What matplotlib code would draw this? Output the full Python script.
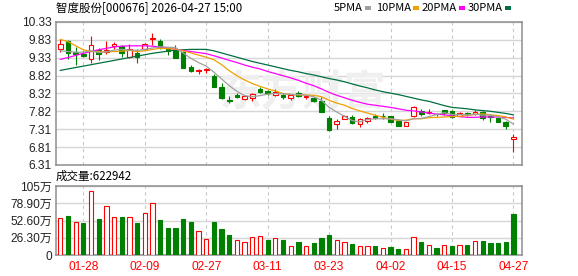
import matplotlib
matplotlib.use("Agg")
import matplotlib.pyplot as plt
from matplotlib.patches import Rectangle
import numpy as np

# trading days shown on the chart
dates = [
    "01-23", "01-26", "01-27", "01-28", "01-29", "01-30", "02-02", "02-03", "02-04", "02-05",
    "02-06", "02-09", "02-10", "02-11", "02-12", "02-13", "02-24", "02-25", "02-26", "02-27",
    "03-02", "03-03", "03-04", "03-05", "03-06", "03-09", "03-10", "03-11", "03-12", "03-13",
    "03-16", "03-17", "03-18", "03-19", "03-20", "03-23", "03-24", "03-25", "03-26", "03-27",
    "03-30", "03-31", "04-01", "04-02", "04-03", "04-07", "04-08", "04-09", "04-10", "04-13",
    "04-14", "04-15", "04-16", "04-17", "04-20", "04-21", "04-22", "04-23", "04-24", "04-27",
]
tick_dates = ["01-28", "02-09", "02-27", "03-11", "03-23", "04-02", "04-15", "04-27"]

opens = [9.58, 9.79, 9.50, 9.42, 9.30, 9.53, 9.48, 9.66, 9.65, 9.35,
         9.47, 9.58, 9.84, 9.80, 9.58, 9.55, 9.48, 9.07, 8.94, 8.97,
         8.81, 8.49, 8.13, 8.28, 8.17, 8.19, 8.46, 8.38, 8.28, 8.28,
         8.20, 8.32, 8.22, 8.19, 8.11, 7.62, 7.45, 7.60, 7.67, 7.47,
         7.55, 7.69, 7.70, 7.68, 7.56, 7.42, 7.70, 7.83, 7.76, 7.74,
         7.85, 7.82, 7.70, 7.76, 7.74, 7.79, 7.70, 7.62, 7.52, 7.05]
highs = [9.84, 9.82, 9.63, 9.52, 9.94, 9.60, 9.80, 9.77, 9.69, 9.71,
         9.56, 9.75, 10.02, 9.85, 9.64, 9.68, 9.52, 9.11, 9.02, 9.05,
         8.86, 8.61, 8.24, 8.32, 8.28, 8.34, 8.51, 8.41, 8.44, 8.33,
         8.30, 8.39, 8.28, 8.22, 8.22, 7.70, 7.60, 7.71, 7.71, 7.63,
         7.66, 7.75, 7.76, 7.70, 7.60, 7.53, 7.96, 7.89, 7.89, 7.76,
         7.87, 7.86, 7.81, 7.79, 7.85, 7.83, 7.74, 7.66, 7.54, 7.19]
lows = [9.50, 9.30, 9.13, 9.34, 9.19, 9.26, 9.42, 9.58, 9.34, 9.31,
        9.19, 9.54, 9.67, 9.58, 9.40, 9.32, 9.04, 8.92, 8.86, 8.91,
        8.49, 8.17, 8.06, 8.18, 8.14, 8.11, 8.33, 8.29, 8.25, 8.17,
        8.13, 8.21, 8.17, 8.09, 7.80, 7.27, 7.32, 7.59, 7.45, 7.38,
        7.48, 7.60, 7.60, 7.52, 7.41, 7.42, 7.65, 7.70, 7.74, 7.70,
        7.72, 7.64, 7.68, 7.68, 7.72, 7.58, 7.53, 7.53, 7.31, 6.67]
closes = [9.72, 9.47, 9.43, 9.37, 9.67, 9.43, 9.54, 9.71, 9.47, 9.56,
          9.36, 9.70, 9.89, 9.63, 9.52, 9.33, 9.05, 8.96, 8.98, 9.00,
          8.51, 8.19, 8.11, 8.22, 8.25, 8.30, 8.36, 8.32, 8.37, 8.21,
          8.27, 8.25, 8.26, 8.12, 7.80, 7.29, 7.56, 7.68, 7.49, 7.60,
          7.64, 7.62, 7.68, 7.53, 7.41, 7.51, 7.93, 7.74, 7.79, 7.73,
          7.76, 7.67, 7.77, 7.73, 7.81, 7.64, 7.65, 7.53, 7.41, 7.11]

ma5 = [9.52, 9.50, 9.48, 9.48, 9.53, 9.47, 9.49, 9.54, 9.56, 9.54,
       9.53, 9.56, 9.60, 9.63, 9.62, 9.61, 9.46, 9.31, 9.19, 9.09,
       8.92, 8.73, 8.54, 8.38, 8.26, 8.23, 8.26, 8.30, 8.32, 8.31,
       8.30, 8.29, 8.27, 8.23, 8.13, 7.93, 7.80, 7.68, 7.56, 7.52,
       7.59, 7.61, 7.61, 7.61, 7.58, 7.55, 7.61, 7.62, 7.67, 7.73,
       7.78, 7.73, 7.73, 7.72, 7.74, 7.71, 7.71, 7.66, 7.60, 7.46]
ma10 = [9.84, 9.78, 9.66, 9.55, 9.50, 9.50, 9.49, 9.50, 9.51, 9.53,
        9.50, 9.52, 9.56, 9.59, 9.58, 9.57, 9.52, 9.46, 9.40, 9.34,
        9.27, 9.13, 8.96, 8.82, 8.70, 8.60, 8.52, 8.45, 8.39, 8.32,
        8.29, 8.28, 8.28, 8.27, 8.23, 8.13, 8.05, 7.99, 7.90, 7.83,
        7.77, 7.71, 7.65, 7.60, 7.56, 7.57, 7.61, 7.61, 7.64, 7.65,
        7.66, 7.67, 7.68, 7.70, 7.73, 7.75, 7.72, 7.70, 7.66, 7.60]
ma20 = [9.28, 9.33, 9.39, 9.45, 9.50, 9.55, 9.59, 9.63, 9.65, 9.66,
        9.66, 9.66, 9.65, 9.63, 9.60, 9.56, 9.53, 9.50, 9.47, 9.44,
        9.38, 9.32, 9.25, 9.19, 9.12, 9.06, 9.01, 8.94, 8.88, 8.82,
        8.76, 8.69, 8.61, 8.54, 8.45, 8.35, 8.27, 8.20, 8.13, 8.07,
        8.02, 7.99, 7.96, 7.93, 7.89, 7.85, 7.83, 7.80, 7.77, 7.74,
        7.72, 7.69, 7.67, 7.65, 7.65, 7.66, 7.66, 7.66, 7.65, 7.63]
ma30 = [8.97, 9.01, 9.05, 9.09, 9.13, 9.17, 9.21, 9.25, 9.29, 9.33,
        9.37, 9.41, 9.45, 9.48, 9.51, 9.54, 9.55, 9.56, 9.56, 9.56,
        9.52, 9.46, 9.40, 9.34, 9.28, 9.22, 9.17, 9.12, 9.07, 9.02,
        8.97, 8.93, 8.88, 8.84, 8.79, 8.74, 8.70, 8.65, 8.59, 8.53,
        8.48, 8.42, 8.37, 8.33, 8.29, 8.24, 8.19, 8.14, 8.10, 8.04,
        7.98, 7.93, 7.91, 7.89, 7.86, 7.84, 7.82, 7.79, 7.76, 7.72]

# volume in 万 (10k lots); last one is 622942
volume = [55.9, 59.5, 50.3, 48.8, 97.1, 54.9, 74.2, 57.4, 57.9, 57.4,
          48.8, 63.5, 78.8, 53.4, 41.2, 41.2, 54.9, 50.3, 36.1, 23.9,
          50.3, 39.6, 30.5, 22.4, 19.3, 26.9, 28.5, 22.9, 25.4, 22.9,
          13.2, 19.8, 13.2, 18.3, 25.9, 30.5, 22.4, 19.3, 16.8, 13.2,
          13.2, 13.7, 10.2, 12.2, 9.1, 8.6, 26.9, 19.8, 14.7, 10.7,
          14.7, 13.7, 14.7, 15.2, 20.8, 21.3, 18.3, 18.3, 19.8, 62.2942]
# 1 = red (up) volume bar, 0 = green
volume_up = [1, 0, 1, 0, 1, 0, 1, 1, 0, 1,
             0, 1, 1, 0, 0, 0, 0, 0, 1, 1,
             0, 0, 0, 1, 1, 1, 1, 0, 1, 0,
             1, 0, 1, 0, 0, 0, 1, 1, 0, 1,
             1, 0, 1, 0, 0, 1, 1, 0, 1, 0,
             1, 0, 1, 0, 1, 0, 0, 0, 0, 0]

price_ticks = ["6.31", "6.81", "7.31", "7.82", "8.32", "8.82", "9.33", "9.83", "10.33"]
vol_ticks = ["0", "26.30万", "52.60万", "78.90万", "105万"]
ma_names = ["5PMA", "10PMA", "20PMA", "30PMA"]

RED = "#ff0000"
GREEN = "#008000"
MA_COLORS = ["#a0a0a0", "#f0a000", "#ff00ff", "#007040"]
FRAME = "#8e8e8e"
GRID = "#d6d6d6"
CJK = ["Noto Sans CJK SC", "DejaVu Sans"]
NUM = ["Liberation Sans", "Noto Sans CJK SC"]

W, H = 578, 276
fig = plt.figure(figsize=(W / 100, H / 100), dpi=100)


def box(l, t, r, b):
    return [l / W, 1 - b / H, (r - l) / W, (b - t) / H]


ax = fig.add_axes(box(56, 22, 522, 165))
axv = fig.add_axes(box(56, 186, 522, 255), sharex=ax)

x = np.arange(len(dates))
o, h, l, c = map(np.array, (opens, highs, lows, closes))
up = c >= o
tick_pos = [dates.index(d) for d in tick_dates]

# candles: wick first, body on top (hollow red, filled green)
wick_col = [RED if u else GREEN for u in up]
ax.vlines(x, l, h, colors=wick_col, linewidth=0.8, zorder=3)
body_h = np.maximum(np.abs(c - o), 0.012)
ax.bar(x, body_h, bottom=np.minimum(o, c), width=0.6,
       color=["white" if u else GREEN for u in up],
       edgecolor=wick_col, linewidth=0.8, zorder=4)

for vals, col in zip([ma30, ma20, ma10, ma5], MA_COLORS[::-1]):
    ax.plot(x, vals, color=col, linewidth=0.9, zorder=5)

# faint watermark
ax.text(0.53, 0.51, "东方财富", transform=ax.transAxes, ha="center", va="center",
        fontsize=30, fontweight="bold", color="#efefef", family=CJK, zorder=1)

# volume
vu = np.array(volume_up, dtype=bool)
axv.bar(x, volume, width=0.56,
        color=["white" if u else GREEN for u in vu],
        edgecolor=[RED if u else GREEN for u in vu], linewidth=0.8, zorder=3)

ax.set_ylim(6.31, 10.33)
ax.set_yticks(np.linspace(6.31, 10.33, 9))
ax.set_yticklabels(price_ticks)
axv.set_ylim(0, 105.2)
axv.set_yticks(np.linspace(0, 105.2, 5))
axv.set_yticklabels(vol_ticks)
axv.get_yticklabels()[0].set_color("#c07800")
ax.set_xlim(-0.56, len(dates) + 0.12)
axv.set_xticks(tick_pos)
axv.set_xticklabels(tick_dates)

for a in (ax, axv):
    a.grid(axis="y", color=GRID, linewidth=1.0, zorder=0)
    for p in tick_pos:
        a.axvline(p, color="#c8c8c8", linewidth=0.8, linestyle=(0, (3, 3)), zorder=0)
    for s in a.spines.values():
        s.set_color(FRAME)
        s.set_linewidth(1.1)
    a.tick_params(length=0, pad=3, labelsize=8.6, labelcolor="#222222")
    for t in a.get_yticklabels():
        t.set_family(NUM)
    a.set_axisbelow(True)

ax.tick_params(axis="x", labelbottom=False)
axv.tick_params(axis="x", labelcolor=RED, pad=4)
for t in axv.get_xticklabels():
    t.set_family(NUM)

fig.text(56 / W, 1 - 8 / H, "智度股份[000676] 2026-04-27 15:00", ha="left", va="center",
         fontsize=8.3, family=CJK)
fig.text(56 / W, 1 - 176.5 / H, f"成交量:{volume[-1] * 1e4:.0f}", ha="left", va="center",
         fontsize=8.3, family=CJK)

# legend row: label right-aligned just before its colour chip
chip_x = [365, 413, 459, 505]
for name, col, cx in zip(ma_names, MA_COLORS, chip_x):
    fig.text((cx - 2) / W, 1 - 8 / H, name, ha="right", va="center", fontsize=8.0, family=CJK)
    fig.add_artist(Rectangle((cx / W, (H - 9.8) / H), 5.5 / W, 3.5 / H,
                             transform=fig.transFigure, color=col, linewidth=0))

fig.savefig("out.png", dpi=100)
